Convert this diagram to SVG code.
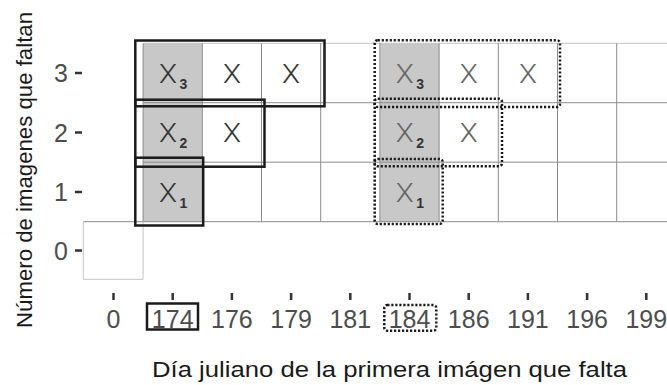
<svg xmlns="http://www.w3.org/2000/svg" width="667" height="385" viewBox="0 0 667 385">
<style>
.grid{stroke:#8c8c8c;stroke-width:1;fill:none}
.gridl{stroke:#c4c4c4;stroke-width:1;fill:none}
.shade{fill:#c8c8c8}
.solid{fill:none;stroke:#1a1a1a;stroke-width:2.5}
.dot{fill:none;stroke:#1a1a1a;stroke-width:2.5;stroke-dasharray:2.2 1.8}
.x{font-family:Roboto,"Liberation Sans",sans-serif;font-weight:300;font-size:26px;fill:#333;text-anchor:middle}
.xd{font-family:Roboto,"Liberation Sans",sans-serif;font-weight:300;font-size:26px;fill:#666;text-anchor:middle}
.sub{font-family:"Liberation Sans",Arial,sans-serif;font-size:14px;font-weight:bold;fill:#333}
.tick{stroke:#333;stroke-width:2.5}
.tl{font-family:"Liberation Sans",Arial,sans-serif;font-size:25px;fill:#4d4d4d}
.title{font-family:"Liberation Sans",Arial,sans-serif;font-size:21.5px;fill:#1a1a1a;text-anchor:middle}
</style>
<g id="background-grid">
  <rect class="shade" x="143.1" y="43.3" width="59.2" height="178.4"/>
  <rect class="shade" x="379.9" y="43.3" width="59.2" height="178.4"/>
  <line class="gridl" x1="143.1" y1="43.3" x2="667" y2="43.3"/>
  <line class="grid" x1="143.1" y1="102.7" x2="667" y2="102.7"/>
  <line class="grid" x1="143.1" y1="162.2" x2="667" y2="162.2"/>
  <line class="grid" x1="83.3" y1="221.7" x2="667" y2="221.7"/>
  <g class="grid">
    <line x1="143.1" y1="43.3" x2="143.1" y2="221.7"/>
    <line x1="202.3" y1="43.3" x2="202.3" y2="221.7"/>
    <line x1="261.5" y1="43.3" x2="261.5" y2="221.7"/>
    <line x1="320.7" y1="43.3" x2="320.7" y2="221.7"/>
    <line x1="379.9" y1="43.3" x2="379.9" y2="221.7"/>
    <line x1="439.1" y1="43.3" x2="439.1" y2="221.7"/>
    <line x1="498.3" y1="43.3" x2="498.3" y2="221.7"/>
    <line x1="557.5" y1="43.3" x2="557.5" y2="221.7"/>
    <line x1="616.7" y1="43.3" x2="616.7" y2="221.7"/>
  </g>
  <path class="gridl" d="M83.3 221.7 V279.3 H143.1 V221.7"/>
</g>
<g id="marks-174">
  <text class="x" x="168" y="82.5" textLength="18" lengthAdjust="spacingAndGlyphs">X</text><text class="sub" x="179.5" y="88.5">3</text>
  <text class="x" x="232" y="82.5" textLength="18" lengthAdjust="spacingAndGlyphs">X</text>
  <text class="x" x="291" y="82.5" textLength="18" lengthAdjust="spacingAndGlyphs">X</text>
  <text class="x" x="168" y="142" textLength="18" lengthAdjust="spacingAndGlyphs">X</text><text class="sub" x="179.5" y="148">2</text>
  <text class="x" x="232" y="142" textLength="18" lengthAdjust="spacingAndGlyphs">X</text>
  <text class="x" x="168" y="201.5" textLength="18" lengthAdjust="spacingAndGlyphs">X</text><text class="sub" x="179.5" y="207.5">1</text>
</g>
<g id="marks-184">
  <text class="xd" x="404.8" y="82.5" textLength="18" lengthAdjust="spacingAndGlyphs">X</text><text class="sub" x="416.3" y="88.5">3</text>
  <text class="xd" x="468.7" y="82.5" textLength="18" lengthAdjust="spacingAndGlyphs">X</text>
  <text class="xd" x="527.9" y="82.5" textLength="18" lengthAdjust="spacingAndGlyphs">X</text>
  <text class="xd" x="404.8" y="142" textLength="18" lengthAdjust="spacingAndGlyphs">X</text><text class="sub" x="416.3" y="148">2</text>
  <text class="xd" x="468.7" y="142" textLength="18" lengthAdjust="spacingAndGlyphs">X</text>
  <text class="xd" x="404.8" y="201.5" textLength="18" lengthAdjust="spacingAndGlyphs">X</text><text class="sub" x="416.3" y="207.5">1</text>
</g>
<g id="boxes-174">
  <rect id="box174-3" class="solid" x="135.3" y="40.5" width="189.2" height="65.8"/>
  <rect id="box174-2" class="solid" x="135.3" y="99.7" width="129.2" height="67"/>
  <rect id="box174-1" class="solid" x="135.3" y="157.7" width="67.9" height="67.8"/>
</g>
<g id="boxes-184">
  <rect id="box184-3" class="dot" x="374.7" y="40.3" width="185.3" height="66.7" rx="3"/>
  <rect id="box184-2" class="dot" x="374.7" y="98.8" width="127.3" height="67.4" rx="3"/>
  <rect id="box184-1" class="dot" x="374.7" y="159" width="68" height="65" rx="3"/>
</g>
<g id="y-axis">
  <g class="tick">
    <line x1="75" y1="73" x2="82" y2="73"/>
    <line x1="75" y1="132.5" x2="82" y2="132.5"/>
    <line x1="75" y1="192" x2="82" y2="192"/>
    <line x1="75" y1="250.5" x2="82" y2="250.5"/>
  </g>
  <g class="tl" text-anchor="end">
    <text x="68" y="82">3</text>
    <text x="68" y="141.5">2</text>
    <text x="68" y="201">1</text>
    <text x="68" y="259.5">0</text>
  </g>
  <text class="title" transform="translate(31.5 170) rotate(-90)" textLength="316" lengthAdjust="spacingAndGlyphs">Número de imagenes que faltan</text>
</g>
<g id="x-axis">
  <g class="tick">
    <line x1="113.5" y1="293" x2="113.5" y2="300"/>
    <line x1="172.7" y1="293" x2="172.7" y2="300"/>
    <line x1="231.9" y1="293" x2="231.9" y2="300"/>
    <line x1="291.1" y1="293" x2="291.1" y2="300"/>
    <line x1="350.3" y1="293" x2="350.3" y2="300"/>
    <line x1="409.5" y1="293" x2="409.5" y2="300"/>
    <line x1="468.7" y1="293" x2="468.7" y2="300"/>
    <line x1="527.9" y1="293" x2="527.9" y2="300"/>
    <line x1="587.1" y1="293" x2="587.1" y2="300"/>
    <line x1="646.3" y1="293" x2="646.3" y2="300"/>
  </g>
  <g class="tl" text-anchor="middle">
    <text x="113.5" y="327.5">0</text>
    <text x="172.7" y="327.5">174</text>
    <text x="231.9" y="327.5">176</text>
    <text x="291.1" y="327.5">179</text>
    <text x="350.3" y="327.5">181</text>
    <text x="409.5" y="327.5">184</text>
    <text x="468.7" y="327.5">186</text>
    <text x="527.9" y="327.5">191</text>
    <text x="587.1" y="327.5">196</text>
    <text x="646.3" y="327.5">199</text>
  </g>
  <rect class="solid" x="147" y="303.5" width="51" height="26" stroke-width="2"/>
  <rect class="dot" x="384.3" y="305" width="52" height="25.7" rx="3" stroke-width="2"/>
  <text class="title" x="389.5" y="377" textLength="475" lengthAdjust="spacingAndGlyphs">Día juliano de la primera imágen que falta</text>
</g>
</svg>
